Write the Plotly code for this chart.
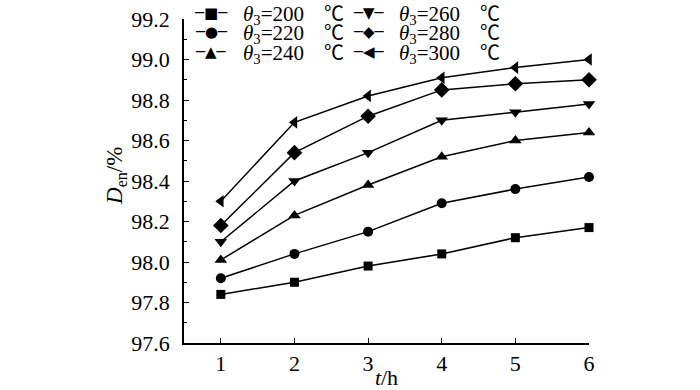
import plotly.graph_objects as go

t_hours = [1, 2, 3, 4, 5, 6]
temps = [200, 220, 240, 260, 280, 300]
d_200 = [97.84, 97.90, 97.98, 98.04, 98.12, 98.17]
d_220 = [97.92, 98.04, 98.15, 98.29, 98.36, 98.42]
d_240 = [98.01, 98.23, 98.38, 98.52, 98.60, 98.64]
d_260 = [98.10, 98.40, 98.54, 98.70, 98.74, 98.78]
d_280 = [98.18, 98.54, 98.72, 98.85, 98.88, 98.90]
d_300 = [98.30, 98.69, 98.82, 98.91, 98.96, 99.00]
series = [d_200, d_220, d_240, d_260, d_280, d_300]
symbols = ["square", "circle", "triangle-up", "triangle-down", "diamond", "triangle-left"]
sizes = [9, 10, 11, 11, 12, 11]
legend_glyphs = ["■", "●", "▲", "▼", "◆", "◀"]

FONT = "Liberation Serif"

# plot area in pixels
L, R, T, B = 184, 589, 19, 343
W, H = R - L, B - T

fig = go.Figure()
for temp, vals, sym, sz in zip(temps, series, symbols, sizes):
    fig.add_trace(go.Scatter(
        x=t_hours, y=vals, mode="lines+markers",
        name=f"θ3={temp} ℃",
        line=dict(color="black", width=1.5),
        marker=dict(symbol=sym, size=sz, color="black"),
        cliponaxis=False, showlegend=False,
    ))

# legend laid out as two columns of three rows
annotations = []
row_y = [13, 32, 52]
col_sym_x = [211, 369]
col_txt_x = [241, 397]
for i, (temp, glyph) in enumerate(zip(temps, legend_glyphs)):
    col, row = divmod(i, 3)
    yp = (B - row_y[row]) / H
    annotations.append(dict(
        x=(col_sym_x[col] - L) / W, y=yp, xref="paper", yref="paper",
        text=f"─{glyph}─", showarrow=False, xanchor="center", yanchor="middle",
        font=dict(family="DejaVu Sans", size=15, color="black"),
    ))
    annotations.append(dict(
        x=(col_txt_x[col] - L) / W, y=yp, xref="paper", yref="paper",
        text=(f"<i>θ</i><sub>3</sub>={temp}"
              "<span style='font-family:Noto Sans CJK SC;font-size:20px'>　℃</span>"),
        showarrow=False, xanchor="left", yanchor="middle",
        font=dict(family=FONT, size=21, color="black"),
    ))

fig.update_layout(
    width=700, height=390,
    margin=dict(l=L, r=700 - R, t=T, b=390 - B, autoexpand=False),
    paper_bgcolor="white", plot_bgcolor="white",
    font=dict(family=FONT, size=22, color="black"),
    showlegend=False,
    annotations=annotations,
    xaxis=dict(
        range=[0.5, 6.0], tickmode="array", tickvals=t_hours,
        ticks="inside", ticklen=5, tickwidth=1.2, tickcolor="black",
        showline=True, linecolor="black", linewidth=1.5, mirror=False,
        showgrid=False, zeroline=False, ticklabelstandoff=0,
        ticklabeloverflow="allow",
        tickfont=dict(family=FONT, size=22),
        title=dict(text="<i>t</i>/h", font=dict(family=FONT, size=22), standoff=2),
    ),
    yaxis=dict(
        range=[97.6, 99.2], dtick=0.2, tickformat=".1f",
        ticks="inside", ticklen=5, tickwidth=1.2, tickcolor="black",
        minor=dict(dtick=0.1, ticks="inside", ticklen=3, tickcolor="black"),
        showline=True, linecolor="black", linewidth=1.5, mirror=False,
        showgrid=False, zeroline=False, ticklabelstandoff=8,
        ticklabeloverflow="allow",
        tickfont=dict(family=FONT, size=22),
        title=dict(text="&nbsp;&nbsp;<i>D</i><sub>en</sub>/%",
                   font=dict(family=FONT, size=23), standoff=2),
    ),
)

fig.write_html("out.html", config={"displayModeBar": False},
               post_script="document.body.style.margin='0';")
